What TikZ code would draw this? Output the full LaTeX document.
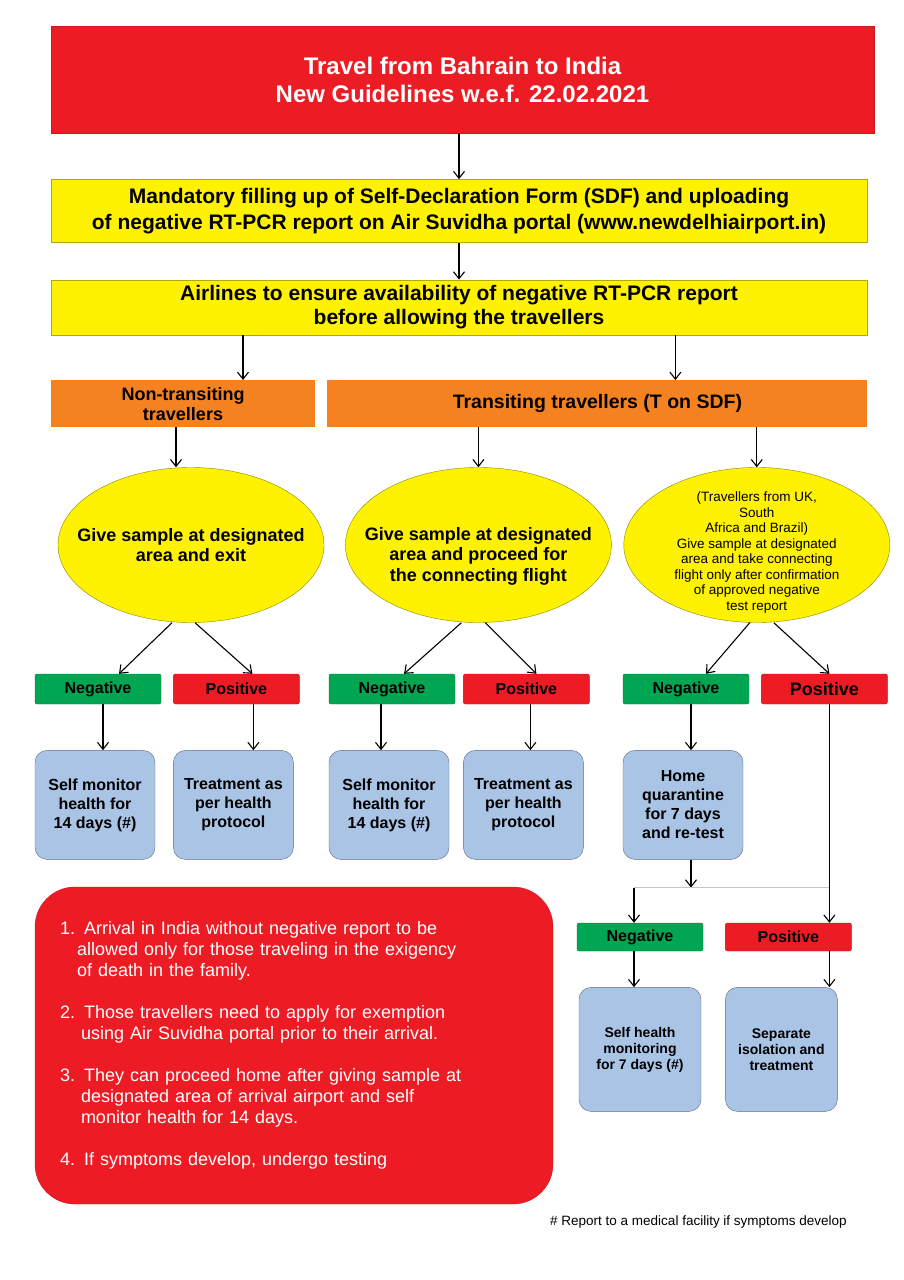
\documentclass[tikz,border=0pt]{standalone}
\usepackage{fontspec}
\setmainfont{Liberation Sans}
\usepackage{xcolor}
\usepackage{tikz}
\usetikzlibrary{arrows.meta,positioning,shapes.geometric}
\definecolor{alertred}{RGB}{237,28,36}
\definecolor{noticeyellow}{RGB}{255,242,0}
\definecolor{grouporange}{RGB}{245,130,32}
\definecolor{negcolor}{RGB}{0,166,81}
\definecolor{poscolor}{RGB}{237,28,36}
\definecolor{actionblue}{RGB}{170,196,230}

\begin{document}
\begin{tikzpicture}[
    every node/.style={align=center,inner sep=0pt},
    banner/.style={draw=alertred!85!black,fill=alertred,text=white,
                   minimum width=823pt,minimum height=107pt,
                   font=\bfseries\fontsize{24}{28}\selectfont},
    infobox/.style={draw=noticeyellow!70!black,fill=noticeyellow,minimum width=816pt,
                    font=\bfseries\fontsize{21}{26}\selectfont},
    groupbox/.style={fill=grouporange,minimum height=47pt},
    sample/.style={ellipse,draw=noticeyellow!55!black,fill=noticeyellow,
                   minimum width=266pt,minimum height=155pt},
    sampletext/.style={font=\bfseries\fontsize{18}{20.5}\selectfont},
    result/.style={rounded corners=2pt,minimum width=126pt,minimum height=30pt,
                   font=\bfseries\fontsize{16}{18}\selectfont},
    negbox/.style={result,draw=negcolor!75!black,fill=negcolor},
    posbox/.style={result,draw=poscolor!75!black,fill=poscolor},
    action/.style={draw=actionblue!55!black,fill=actionblue,rounded corners=12pt,
                   minimum width=120pt,minimum height=109pt,
                   font=\bfseries\fontsize{16}{19}\selectfont},
    notebox/.style={draw=alertred!85!black,fill=alertred,text=white,rounded corners=40pt,
                    text width=468pt,inner xsep=25pt,minimum height=317pt,align=left,
                    font=\fontsize{18}{21}\selectfont},
    arrow/.style={-{Straight Barb[length=7pt,width=11pt]},line width=1.1pt}
]
\useasboundingbox (0,0) rectangle (904pt,-1280pt);

% top of the chart
\node[banner] (title) at (462.5pt,-79.5pt) {Travel from Bahrain to India\\New Guidelines w.e.f. 22.02.2021};
\node[infobox,minimum height=63pt,below=46pt of title.south west,anchor=north west] (sdf)
    {Mandatory filling up of Self-Declaration Form (SDF) and uploading\\of negative RT-PCR report on Air Suvidha portal (www.newdelhiairport.in)};
\node[infobox,minimum height=55pt,below=37pt of sdf,font=\bfseries\fontsize{21}{24}\selectfont] (airline)
    {Airlines to ensure availability of negative RT-PCR report\\before allowing the travellers};

\node[groupbox,minimum width=264pt,below=45pt of airline.south west,anchor=north west,
      font=\bfseries\fontsize{18}{20}\selectfont] (nontrans) {Non-transiting\\travellers};
\node[groupbox,minimum width=540pt,right=12pt of nontrans,
      font=\bfseries\fontsize{19.5}{22}\selectfont] (trans) {Transiting travellers (T on SDF)};

% sampling
\node[sample] (areaexit) at (191pt,-545pt) {};
\node[sampletext] (exittext) at (areaexit.center) {Give sample at designated\\area and exit};
\node[sample,right=21pt of areaexit] (areaflight) {};
\node[sampletext] (flighttext) at ([yshift=-11pt]areaflight.center)
    {Give sample at designated\\area and proceed for\\the connecting flight};
\node[sample,right=12pt of areaflight] (areareport) {};
\node[font=\fontsize{13.5}{15.5}\selectfont] (reporttext) at ([yshift=-7.5pt]areareport.center)
    {(Travellers from UK,\\South\\Africa and Brazil)\\Give sample at designated\\area and take connecting\\flight only after confirmation\\of approved negative\\test report};

% test results
\node[negbox] (neg1) at (98pt,-689pt) {Negative};
\node[posbox,right=12pt of neg1] (pos1) {Positive};
\node[negbox] (neg2) at (392pt,-689pt) {Negative};
\node[posbox,right=8pt of neg2] (pos2) {Positive};
\node[negbox] (neg3) at (686pt,-689pt) {Negative};
\node[posbox,right=12pt of neg3,font=\bfseries\fontsize{18}{20}\selectfont] (pos3) {Positive};

\node[action,below=46pt of neg1.south west,anchor=north west] (monitor1) {Self monitor\\health for\\14 days (\#)};
\node[action,below=46pt of pos1.south west,anchor=north west] (treat1) {Treatment as\\per health\\protocol};
\node[action,below=46pt of neg2.south west,anchor=north west] (monitor2) {Self monitor\\health for\\14 days (\#)};
\node[action,below=46pt of pos2.south west,anchor=north west] (treat2) {Treatment as\\per health\\protocol};
\node[action,below=46pt of neg3.south west,anchor=north west] (quarantine) {Home\\quarantine\\for 7 days\\and re-test};

% re-test
\coordinate[below=28pt of quarantine.south] (retest);
\node[negbox,minimum height=28pt] (neg4) at (640pt,-937pt) {Negative};
\node[posbox,minimum height=28pt,right=22pt of neg4] (pos4) {Positive};
\node[action,minimum width=122pt,minimum height=124pt,below=36pt of neg4,
      font=\bfseries\fontsize{14}{16}\selectfont] (selfhealth) {Self health\\monitoring\\for 7 days (\#)};
\node[action,minimum width=112pt,minimum height=124pt,below=36pt of pos4.south west,anchor=north west,
      font=\bfseries\fontsize{14}{16}\selectfont] (isolation) {Separate\\isolation and\\treatment};

% notes
\node[notebox] (note) at (294pt,-1045.5pt)
    {1. Arrival in India without negative report to be\\
     \hspace*{17pt}allowed only for those traveling in the exigency\\
     \hspace*{17pt}of death in the family.\\[21pt]
     2. Those travellers need to apply for exemption\\
     \hspace*{21pt}using Air Suvidha portal prior to their arrival.\\[21pt]
     3. They can proceed home after giving sample at\\
     \hspace*{21pt}designated area of arrival airport and self\\
     \hspace*{21pt}monitor health for 14 days.\\[21pt]
     4. If symptoms develop, undergo testing};
\node[anchor=west,font=\fontsize{13.5}{16}\selectfont] (footnote) at (550pt,-1222pt)
    {\# Report to a medical facility if symptoms develop};

\draw[arrow] (sdf.north |- title.south) -- (sdf.north);
\draw[arrow] (sdf) -- (airline);
\draw[arrow] ([xshift=60pt]nontrans.north |- airline.south) -- ([xshift=60pt]nontrans.north);
\draw[arrow] ([xshift=78pt]trans.north |- airline.south) -- ([xshift=78pt]trans.north);
\draw[arrow] ([xshift=-7pt]nontrans.south) -- ([xshift=-15pt]areaexit.north);
\draw[arrow] (areaflight.north |- trans.south) -- (areaflight.north);
\draw[arrow] (areareport.north |- trans.south) -- (areareport.north);

\draw[arrow] ([xshift=-19pt]areaexit.south) -- ([xshift=21pt]neg1.north);
\draw[arrow] ([xshift=4pt]areaexit.south) -- ([xshift=16pt]pos1.north);
\draw[arrow] ([xshift=-17pt]areaflight.south) -- ([xshift=12pt]neg2.north);
\draw[arrow] ([xshift=7pt]areaflight.south) -- ([xshift=10pt]pos2.north);
\draw[arrow] ([xshift=-7pt]areareport.south) -- ([xshift=20pt]neg3.north);
\draw[arrow] ([xshift=17pt]areareport.south) -- ([xshift=5pt]pos3.north);

\draw[arrow] ([xshift=5pt]neg1.south) -- ([xshift=5pt]neg1.south |- monitor1.north);
\draw[arrow] ([xshift=17pt]pos1.south) -- ([xshift=17pt]pos1.south |- treat1.north);
\draw[arrow] ([xshift=-11pt]neg2.south) -- ([xshift=-11pt]neg2.south |- monitor2.north);
\draw[arrow] ([xshift=4pt]pos2.south) -- ([xshift=4pt]pos2.south |- treat2.north);
\draw[arrow] ([xshift=5pt]neg3.south) -- ([xshift=5pt]neg3.south |- quarantine.north);

\draw[arrow] ([xshift=5pt]neg3.south |- quarantine.south) -- ([xshift=5pt]neg3.south |- retest);
\draw[gray!45,line width=1.1pt] ([xshift=-6pt]neg4.north |- retest) -- ([xshift=5pt]pos3.south |- retest);
\draw[arrow] ([xshift=-6pt]neg4.north |- retest) -- ([xshift=-6pt]neg4.north);
\draw[arrow] ([xshift=5pt]pos3.south) -- ([xshift=5pt]pos3.south |- pos4.north);
\draw[arrow] ([xshift=-6pt]neg4.south) -- ([xshift=-6pt]neg4.south |- selfhealth.north);
\draw[arrow] ([xshift=5pt]pos3.south |- pos4.south) -- ([xshift=5pt]pos3.south |- isolation.north);
\end{tikzpicture}
\end{document}
